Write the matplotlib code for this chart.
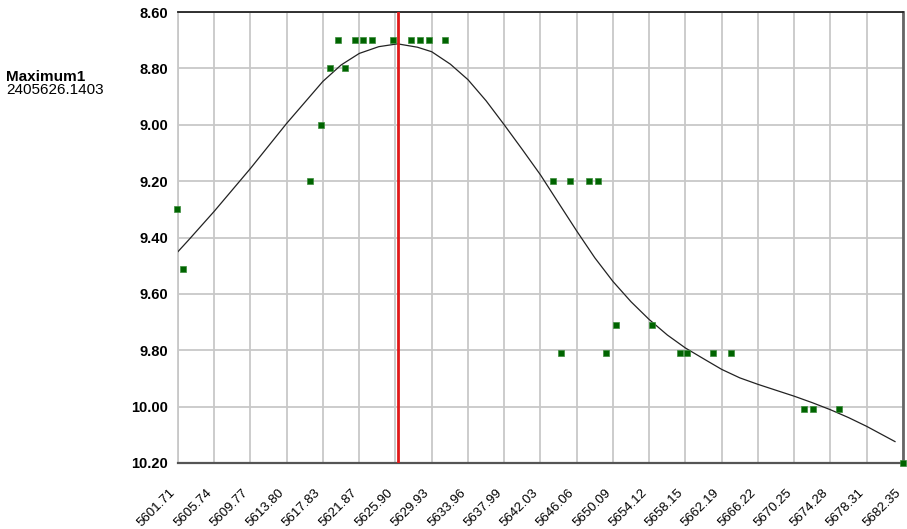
import matplotlib
matplotlib.use("Agg")
import matplotlib.pyplot as plt

plt.rcParams['font.family'] = ['Liberation Sans', 'DejaVu Sans']

# x tick labels (JD - 2400000)
tick_labels = ["5601.71", "5605.74", "5609.77", "5613.80", "5617.83", "5621.87",
               "5625.90", "5629.93", "5633.96", "5637.99", "5642.03", "5646.06",
               "5650.09", "5654.12", "5658.15", "5662.19", "5666.22", "5670.25",
               "5674.28", "5678.31", "5682.35"]
y_ticks = [8.60, 8.80, 9.00, 9.20, 9.40, 9.60, 9.80, 10.00, 10.20]

# observations
obs_x = [5601.63, 5602.27, 5616.39, 5617.58, 5618.62, 5619.54, 5620.32, 5621.43,
         5622.32, 5623.32, 5625.59, 5627.59, 5628.59, 5629.60, 5631.41, 5643.42,
         5644.35, 5645.35, 5647.46, 5648.46, 5649.28, 5650.39, 5654.43, 5657.55,
         5658.36, 5661.25, 5663.25, 5671.37, 5672.38, 5675.27, 5682.35]
obs_y = [9.30, 9.51, 9.20, 9.00, 8.80, 8.70, 8.80, 8.70, 8.70, 8.70, 8.70, 8.70,
         8.70, 8.70, 8.70, 9.20, 9.81, 9.20, 9.20, 9.20, 9.81, 9.71, 9.71, 9.81,
         9.81, 9.81, 9.81, 10.01, 10.01, 10.01, 10.20]

# fitted curve
fit_x = [5601.71, 5602.86, 5605.74, 5609.77, 5613.80, 5617.83, 5619.85, 5621.87,
         5624.04, 5626.14, 5628.35, 5629.93, 5632.00, 5633.96, 5635.98, 5637.99,
         5640.01, 5642.03, 5644.05, 5646.06, 5648.07, 5650.09, 5652.10, 5654.12,
         5656.14, 5658.15, 5660.37, 5662.19, 5664.20, 5666.22, 5668.23, 5670.25,
         5672.26, 5674.28, 5676.30, 5678.31, 5681.46]
fit_y = [9.45, 9.41, 9.307, 9.155, 8.995, 8.846, 8.788, 8.747, 8.723, 8.713,
         8.725, 8.741, 8.785, 8.840, 8.915, 9.000, 9.088, 9.178, 9.278, 9.377,
         9.472, 9.556, 9.628, 9.691, 9.746, 9.792, 9.834, 9.868, 9.898, 9.921,
         9.942, 9.963, 9.986, 10.011, 10.039, 10.070, 10.124]

max_jd = 2405626.1403
max_x = max_jd - 2400000

W, H = 907, 529
fig = plt.figure(figsize=(W / 100, H / 100), dpi=100)
ax = fig.add_axes([178 / W, 1 - 463 / H, (903 - 178) / W, (463 - 12) / H])

tick_vals = [float(t) for t in tick_labels]
ax.set_xlim(tick_vals[0], tick_vals[-1])
ax.set_ylim(10.20, 8.60)

ax.set_xticks(tick_vals)
ax.set_xticklabels(tick_labels, rotation=45, ha='right', fontsize=9.5)
ax.set_yticks(y_ticks)
ax.set_yticklabels([f"{v:.2f}" for v in y_ticks], fontsize=10.5, fontweight='bold')
ax.tick_params(axis='x', length=0, pad=17)
ax.tick_params(axis='y', length=0, pad=7)

ax.grid(True, color='#c8c8c8', linewidth=1.3)
ax.set_axisbelow(True)

ax.plot(fit_x, fit_y, color='#222222', linewidth=0.9, zorder=3)
ax.axvline(max_x, color='#e01818', linewidth=2, zorder=4)
ax.plot(obs_x, obs_y, linestyle='none', marker='s', markersize=4.5,
        markerfacecolor='#006400', markeredgecolor='#3c8c3c', markeredgewidth=0.5,
        zorder=5, clip_on=False)

ax.spines['top'].set_color('#222222')
ax.spines['top'].set_linewidth(1.3)
ax.spines['right'].set_color('#666666')
ax.spines['right'].set_linewidth(2)
ax.spines['bottom'].set_color('#555555')
ax.spines['bottom'].set_linewidth(1.6)
ax.spines['left'].set_color('#c8c8c8')
ax.spines['left'].set_linewidth(1.3)

fig.text(6 / W, 1 - 81 / H, "Maximum1", fontsize=11, fontweight='bold',
         ha='left', va='baseline')
fig.text(6 / W, 1 - 94 / H, "2405626.1403", fontsize=11,
         ha='left', va='baseline')

fig.savefig("out.png", dpi=100)
